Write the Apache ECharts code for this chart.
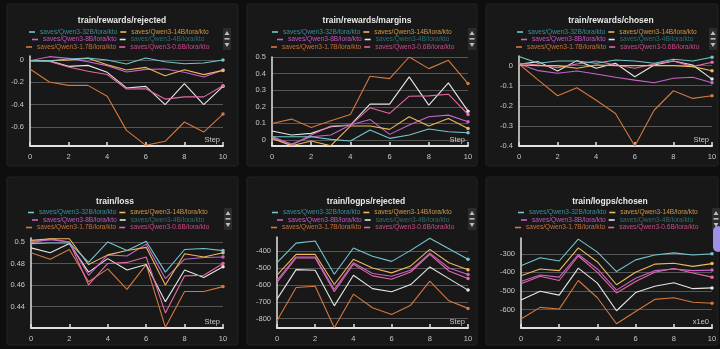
<!DOCTYPE html>
<html><head><meta charset="utf-8">
<script src="https://cdn.jsdelivr.net/npm/echarts@6/dist/echarts.min.js"></script>
<style>html,body{margin:0;padding:0;background:#0e0e0e;}#c{width:720px;height:349px;}</style>
</head><body><div id="c"></div><script>
// ---------- data ----------
const steps = [0,1,2,3,4,5,6,7,8,9,10];
const xTicks = [0,2,4,6,8,10];
const models = ['saves/Qwen3-32B/lora/kto','saves/Qwen3-14B/lora/kto','saves/Qwen3-8B/lora/kto','saves/Qwen3-4B/lora/kto','saves/Qwen3-1.7B/lora/kto','saves/Qwen3-0.6B/lora/kto'];
const titles = ['train/rewards/rejected','train/rewards/margins','train/rewards/chosen','train/loss','train/logps/rejected','train/logps/chosen'];

// train/rewards/rejected
const rej_32B  = [-0.006,-0.006,0.009,0.018,0.0,-0.036,0.018,-0.015,-0.033,-0.027,0.0];
const rej_14B  = [-0.006,-0.006,0.0,0.015,-0.042,-0.09,-0.066,-0.14,-0.087,-0.131,-0.093];
const rej_8B   = [-0.006,0.03,0.015,-0.015,-0.05,-0.107,-0.084,-0.08,-0.11,-0.152,-0.09];
const rej_4B   = [-0.006,-0.006,-0.057,-0.048,-0.11,-0.25,-0.236,-0.40,-0.212,-0.40,-0.236];
const rej_1_7B = [-0.08,-0.197,-0.227,-0.227,-0.325,-0.63,-0.764,-0.728,-0.555,-0.645,-0.484];
const rej_0_6B = [-0.006,-0.012,-0.063,-0.10,-0.13,-0.26,-0.257,-0.35,-0.33,-0.33,-0.23];

// train/rewards/margins
const mar_32B  = [0.02,0.02,0.02,0.004,-0.006,0.06,0.01,0.03,0.066,0.05,0.044];
const mar_14B  = [0.01,-0.034,-0.006,-0.034,0.084,0.084,0.064,0.14,0.084,0.13,0.07];
const mar_8B   = [0.02,-0.024,0.02,0.03,0.09,0.124,0.034,0.09,0.14,0.15,0.11];
const mar_4B   = [0.054,0.03,0.04,0.08,0.09,0.216,0.216,0.38,0.21,0.344,0.174];
const mar_1_7B = [0.10,0.126,0.076,0.116,0.154,0.384,0.37,0.50,0.43,0.48,0.34];
const mar_0_6B = [0.02,-0.03,0.03,0.084,0.09,0.194,0.16,0.264,0.266,0.276,0.154];

// train/rewards/chosen
const cho_32B  = [0.045,0.012,0.023,0.023,0.012,0.028,0.023,0.012,0.032,0.023,0.042];
const cho_14B  = [0.003,0.0,0.0,-0.013,0.003,0.0,0.0,0.0,0.0,-0.005,-0.025];
const cho_8B   = [0.008,-0.025,-0.038,-0.027,-0.042,-0.058,-0.072,-0.085,-0.063,-0.058,-0.085];
const cho_4B   = [0.007,0.02,-0.027,0.025,-0.013,0.012,-0.055,0.003,0.023,0.003,-0.067];
const cho_1_7B = [0.008,-0.072,-0.15,-0.11,-0.172,-0.238,-0.40,-0.222,-0.125,-0.163,-0.15];
const cho_0_6B = [0.012,0.003,-0.01,0.008,0.023,0.003,-0.013,0.008,0.023,-0.005,0.017];

// train/loss
const loss_32B  = [0.4985,0.4991,0.4991,0.481,0.500,0.492,0.5006,0.472,0.493,0.494,0.492];
const loss_14B  = [0.5015,0.503,0.503,0.479,0.488,0.492,0.495,0.460,0.489,0.486,0.490];
const loss_8B   = [0.5006,0.502,0.500,0.469,0.488,0.487,0.498,0.466,0.484,0.4855,0.486];
const loss_4B   = [0.4945,0.490,0.4985,0.472,0.4845,0.474,0.479,0.4445,0.474,0.467,0.477];
const loss_1_7B = [0.490,0.484,0.493,0.463,0.475,0.456,0.479,0.4206,0.454,0.454,0.4585];
const loss_0_6B = [0.499,0.503,0.500,0.460,0.480,0.481,0.486,0.434,0.4685,0.469,0.480];

// train/logps/rejected
const lpr_32B  = [-469,-353,-341,-537,-382,-431,-461,-396,-324,-386,-449];
const lpr_14B  = [-543,-420,-420,-598,-449,-500,-529,-488,-390,-469,-510];
const lpr_8B   = [-573,-435,-435,-627,-469,-533,-549,-514,-412,-500,-539];
const lpr_4B   = [-684,-510,-514,-724,-543,-622,-641,-598,-494,-563,-631];
const lpr_1_7B = [-812,-616,-608,-853,-655,-735,-775,-720,-578,-694,-739];
const lpr_0_6B = [-586,-441,-441,-641,-478,-547,-567,-524,-420,-518,-563];

// train/logps/chosen
const lpc_32B  = [-365,-321,-339,-221,-291,-396,-333,-307,-295,-307,-300];
const lpc_14B  = [-418,-382,-391,-268,-344,-467,-400,-356,-351,-368,-353];
const lpc_8B   = [-449,-414,-426,-304,-382,-496,-432,-391,-382,-391,-388];
const lpc_4B   = [-549,-502,-523,-377,-458,-607,-509,-475,-456,-488,-484];
const lpc_1_7B = [-651,-589,-598,-444,-537,-677,-611,-546,-537,-561,-567];
const lpc_0_6B = [-461,-421,-444,-312,-400,-511,-449,-400,-379,-404,-426];

const panelData = [
  [rej_32B, rej_14B, rej_8B, rej_4B, rej_1_7B, rej_0_6B],
  [mar_32B, mar_14B, mar_8B, mar_4B, mar_1_7B, mar_0_6B],
  [cho_32B, cho_14B, cho_8B, cho_4B, cho_1_7B, cho_0_6B],
  [loss_32B, loss_14B, loss_8B, loss_4B, loss_1_7B, loss_0_6B],
  [lpr_32B, lpr_14B, lpr_8B, lpr_4B, lpr_1_7B, lpr_0_6B],
  [lpc_32B, lpc_14B, lpc_8B, lpc_4B, lpc_1_7B, lpc_0_6B]
];

// ---------- styling / layout ----------
const lineColors = ['#72c6cf','#eeb85e','#c865c8','#e6e6e6','#d4783e','#e36aa6'];
const textColors = ['#3a8f98','#d09848','#c058c0','#2f6e6e','#c8703c','#c84a8a'];
const FONT = 'Liberation Sans, Arial, sans-serif';

const grids = [
  {left:30, top:56, width:193, height:90},
  {left:272, top:57, width:196, height:89},
  {left:519, top:56, width:193, height:90},
  {left:31, top:238, width:192, height:90},
  {left:277, top:237, width:191, height:91},
  {left:521, top:238, width:191, height:90}
];
const yRanges = [
  {min:-0.77, max:0.036, minLbl:false, maxLbl:false, maxLine:false},
  {min:-0.036, max:0.5, minLbl:false, maxLbl:true, maxLine:true},
  {min:-0.4, max:0.048, minLbl:true, maxLbl:false, maxLine:false},
  {min:0.42, max:0.5037, minLbl:false, maxLbl:false, maxLine:false},
  {min:-855, max:-317, minLbl:false, maxLbl:false, maxLine:false},
  {min:-700, max:-215, minLbl:false, maxLbl:false, maxLine:false}
];
const titlePos = [[122,16],[367,16],[611,16],[115,197],[366,197],[610,197]];
const legendLeft = [[29,32,26],[272,277,271],[517,521,516],[28,32,26],[272,277,271],[518,521,515]];
const legendTop = [[28.5,36,43.5],[28.5,36,43.5],[28.5,36,43.5],[209,216.5,224],[209,216.5,224],[209,216.5,224]];
const panelBoxes = [[7,4,231,162],[247,4,230,162],[486,4,232,162],[7,177,231,168],[247,177,230,168],[486,177,232,168]];
const scrollBoxes = [[223,28],[468,28],[709,28],[224,208],[468,208],[712,208]];
const stepNames = ['Step','Step','Step','Step','Step','x1e0'];

const option = {
  backgroundColor:'#0e0e0e',
  animation:false,
  textStyle:{fontFamily:FONT},
  title:[], legend:[], grid:[], xAxis:[], yAxis:[], series:[], graphic:[]
};

for (let p = 0; p < 6; p++) {
  const b = panelBoxes[p];
  option.graphic.push({type:'rect', z:-100, shape:{x:b[0], y:b[1], width:b[2], height:b[3], r:2},
    style:{fill:'#181818', stroke:'#222222', lineWidth:1}, silent:true});
  const s = scrollBoxes[p];
  option.graphic.push({type:'rect', z:-50, shape:{x:s[0], y:s[1], width:8, height:22, r:1}, style:{fill:'#2c2c2c'}, silent:true});
  option.graphic.push({type:'polygon', z:-40, shape:{points:[[s[0]+4,s[1]+3],[s[0]+1.5,s[1]+7],[s[0]+6.5,s[1]+7]]}, style:{fill:'#bdbdbd'}, silent:true});
  option.graphic.push({type:'rect', z:-40, shape:{x:s[0]+1.5, y:s[1]+10, width:5, height:1.6}, style:{fill:'#bdbdbd'}, silent:true});
  option.graphic.push({type:'polygon', z:-40, shape:{points:[[s[0]+1.5,s[1]+15],[s[0]+6.5,s[1]+15],[s[0]+4,s[1]+19]]}, style:{fill:'#bdbdbd'}, silent:true});

  option.title.push({text:titles[p], left:titlePos[p][0], top:titlePos[p][1], textAlign:'center', padding:0,
    textStyle:{color:'#e8e8e8', fontSize:8.5, fontWeight:'bold', fontFamily:FONT}});

  for (let r = 0; r < 3; r++) {
    option.legend.push({
      left:legendLeft[p][r], top:legendTop[p][r], padding:0, itemGap:3, itemWidth:6, itemHeight:1.6,
      icon:'rect', selectedMode:false,
      data:[0,1].map(k => ({name:models[2*r+k], textStyle:{color:textColors[2*r+k]}})),
      textStyle:{fontSize:6.6, fontFamily:FONT}
    });
  }

  option.grid.push(Object.assign({containLabel:false}, grids[p]));
  option.xAxis.push({
    type:'value', gridIndex:p, min:xTicks[0], max:xTicks[xTicks.length-1], interval:xTicks[1]-xTicks[0],
    name:stepNames[p], nameLocation:'end', nameGap:-3,
    nameTextStyle:{color:'#c8c8c8', fontSize:7.5, align:'right', verticalAlign:'bottom', padding:[0,0,2,0], fontFamily:FONT},
    axisLine:{show:true, onZero:false, lineStyle:{color:'#e2e2e2', width:2}},
    axisTick:{show:true, inside:true, length:4, lineStyle:{color:'#e2e2e2', width:1.5}},
    axisLabel:{color:'#c8c8c8', fontSize:7.5, margin:7, fontFamily:FONT},
    splitLine:{show:false}
  });
  const yr = yRanges[p];
  option.yAxis.push({
    type:'value', gridIndex:p, min:yr.min, max:yr.max, splitNumber:5,
    axisLine:{show:true, onZero:false, lineStyle:{color:'#e2e2e2', width:1.5}},
    axisTick:{show:false},
    axisLabel:{color:'#c8c8c8', fontSize:7.5, margin:6, showMinLabel:yr.minLbl, showMaxLabel:yr.maxLbl, fontFamily:FONT},
    splitLine:{show:true, showMinLine:false, showMaxLine:yr.maxLine, lineStyle:{color:'#555555', width:1}}
  });

  const order = [4,3,5,2,1,0];
  order.forEach(m => {
    const arr = panelData[p][m];
    option.series.push({
      type:'line', name:models[m], xAxisIndex:p, yAxisIndex:p,
      data:arr.map((v,i) => [steps[i], v]),
      symbol:'circle', showSymbol:true,
      symbolSize:(val, params) => params.dataIndex === steps.length-1 ? 3.5 : 0,
      lineStyle:{width:1.1, color:lineColors[m]}, itemStyle:{color:lineColors[m]},
      emphasis:{disabled:true}
    });
  });
}
option.graphic.push({type:'rect', z:50, shape:{x:713, y:226, width:10, height:26, r:5}, style:{fill:'#9d92e6'}, silent:true});

const chart = echarts.init(document.getElementById('c'), null, {renderer:'canvas'});
chart.setOption(option);
</script></body></html>
